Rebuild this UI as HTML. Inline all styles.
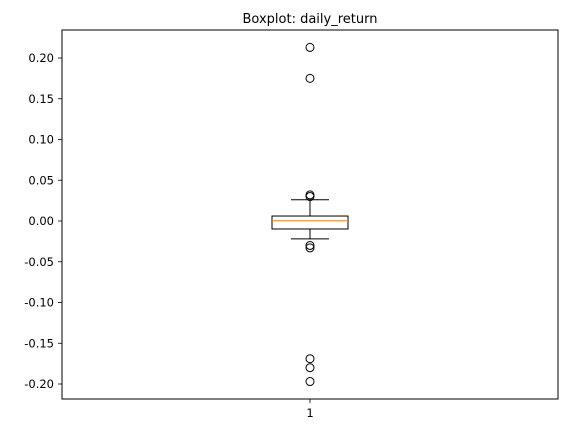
<!DOCTYPE html>
<html><head><meta charset="utf-8"><style>
body{margin:0;background:#fff;}
svg text{font-family:"DejaVu Sans","Liberation Sans",sans-serif;fill:#000;}
</style></head><body>
<svg id="chart" width="568" height="433" xmlns="http://www.w3.org/2000/svg"></svg>
<script>
const categories = ["1"];
const yTicks = [0.20, 0.15, 0.10, 0.05, 0.00, -0.05, -0.10, -0.15, -0.20];
const whiskerLow = [-0.022];
const q1 = [-0.0098];
const median = [0.0003];
const q3 = [0.0061];
const whiskerHigh = [0.026];
const outliers = [0.213, 0.175, 0.032, 0.030, -0.030, -0.033, -0.169, -0.180, -0.197];

const svg = document.getElementById('chart');
const NS = 'http://www.w3.org/2000/svg';
const L = 62, R = 558, T = 30, B = 399;
function y(v){ return 221 - v * 815; }
function x(i){ return (L + R) / 2; }
function mk(tag, attrs, name){
  const e = document.createElementNS(NS, tag);
  for (const k in attrs) e.setAttribute(k, attrs[k]);
  
  
  svg.appendChild(e);
  return e;
}
const title = mk('text', {x: (L+R)/2, y: 23, 'text-anchor': 'middle', 'font-size': 13}, 'chart-title');
title.textContent = 'Boxplot: daily_return';

yTicks.forEach(t => {
  mk('line', {x1: L-4, x2: L, y1: y(t), y2: y(t), stroke: '#000', 'stroke-width': 0.8}, 'y-tick');
  const lb = mk('text', {x: L-8, y: y(t)+4, 'text-anchor': 'end', 'font-size': 11.5}, 'y-tick-label');
  lb.textContent = t.toFixed(2);
});

categories.forEach((c, i) => {
  const cx = x(i), hw = 38, cw = 19;
  mk('line', {x1: cx, x2: cx, y1: y(q3[i]), y2: y(whiskerHigh[i]), stroke: '#000', 'stroke-width': 1}, 'upper-whisker');
  mk('line', {x1: cx, x2: cx, y1: y(q1[i]), y2: y(whiskerLow[i]), stroke: '#000', 'stroke-width': 1}, 'lower-whisker');
  mk('line', {x1: cx-cw, x2: cx+cw, y1: y(whiskerHigh[i]), y2: y(whiskerHigh[i]), stroke: '#000', 'stroke-width': 1}, 'upper-cap');
  mk('line', {x1: cx-cw, x2: cx+cw, y1: y(whiskerLow[i]), y2: y(whiskerLow[i]), stroke: '#000', 'stroke-width': 1}, 'lower-cap');
  mk('rect', {x: cx-hw, y: y(q3[i]), width: 2*hw, height: y(q1[i]) - y(q3[i]), fill: 'none', stroke: '#000', 'stroke-width': 1}, 'box');
  mk('line', {x1: cx-hw, x2: cx+hw, y1: y(median[i]), y2: y(median[i]), stroke: '#ff7f0e', 'stroke-width': 1}, 'median-line');
  outliers.forEach(o => {
    mk('circle', {cx: cx, cy: y(o), r: 4, fill: 'none', stroke: '#000', 'stroke-width': 1}, 'outlier-point');
  });
  mk('line', {x1: cx, x2: cx, y1: B, y2: B+4, stroke: '#000', 'stroke-width': 0.8}, 'x-tick');
  const xl = mk('text', {x: cx, y: B+18, 'text-anchor': 'middle', 'font-size': 11.5}, 'x-tick-label');
  xl.textContent = c;
});
mk('rect', {x: L, y: T, width: R-L, height: B-T, fill: 'none', stroke: '#000', 'stroke-width': 1}, 'plot-frame');
</script>
</body></html>
